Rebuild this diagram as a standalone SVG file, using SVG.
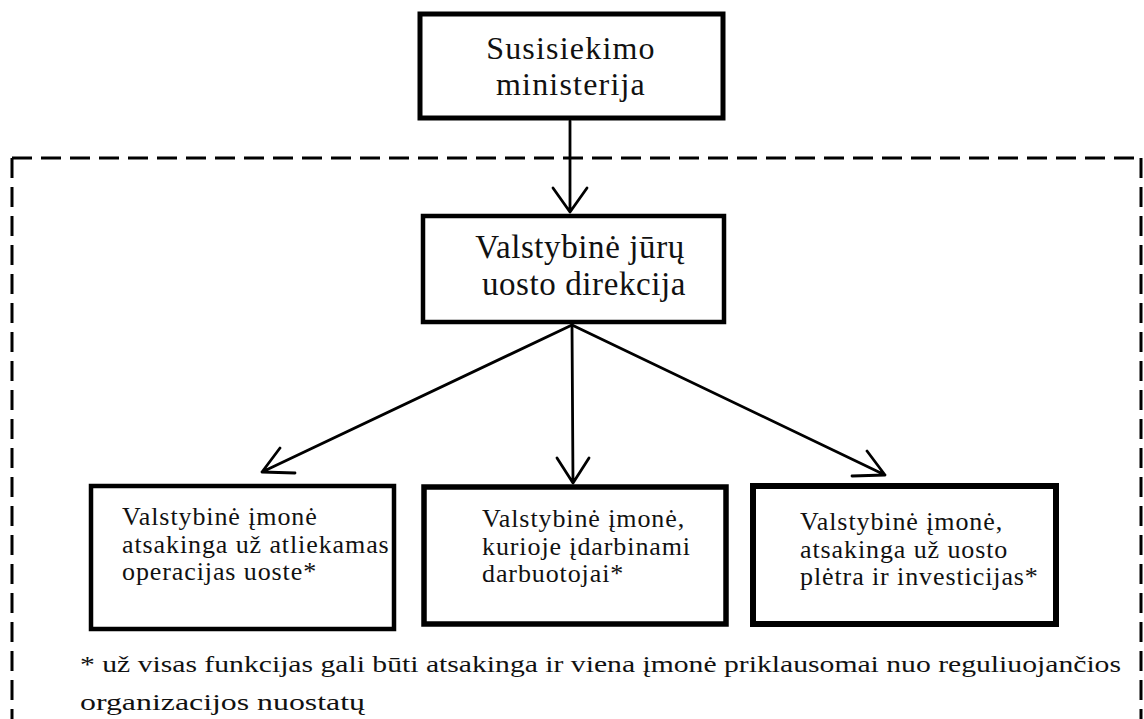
<svg xmlns="http://www.w3.org/2000/svg" width="1144" height="719" viewBox="0 0 1144 719">
<style>
.box{fill:#fff;stroke:#000;stroke-width:5}
.t{font-family:"Liberation Serif","Times New Roman",serif;fill:#111}
.big{font-size:32px;letter-spacing:1.2px}
.mid{font-size:33px;letter-spacing:0.6px}
.sm{font-size:26px;letter-spacing:0.9px}
.fn{font-size:24px}
.ln{stroke:#000;stroke-width:2.8;fill:none;stroke-linecap:round;stroke-linejoin:round}
</style>
<rect width="1144" height="719" fill="#fff"/>
<g id="frame">
<path d="M12 158 H1141 M12 158 V719 M1141 158 V719" fill="none" stroke="#000" stroke-width="3" stroke-dasharray="20 9"/>
</g>
<g id="connectors">
<path class="ln" d="M570 121 V212 M553 188 L570 212 L587 188"/>
<path class="ln" d="M572 325 L262 472 M280 448 L262 472 L295 473"/>
<path class="ln" d="M572 325 L573 483 M557 458 L573 483 L589 458"/>
<path class="ln" d="M572 325 L885 475 M867 451 L885 475 L852 476"/>
</g>
<g id="ministerija">
<rect class="box" x="420" y="14" width="303" height="104"/>
<text class="t big" x="571" y="59" text-anchor="middle">Susisiekimo</text>
<text class="t big" x="571" y="95" text-anchor="middle">ministerija</text>
</g>
<g id="direkcija">
<rect class="box" x="423" y="216" width="301" height="106" style="stroke-width:4.5"/>
<text class="t mid" x="580" y="258" text-anchor="middle">Valstybinė jūrų</text>
<text class="t mid" x="584" y="295" text-anchor="middle">uosto direkcija</text>
</g>
<g id="imone1">
<rect class="box" x="91" y="486" width="303" height="143" style="stroke-width:4.5"/>
<text class="t sm" x="122" y="525">Valstybinė įmonė</text>
<text class="t sm" x="122" y="553">atsakinga už atliekamas</text>
<text class="t sm" x="122" y="580">operacijas uoste*</text>
</g>
<g id="imone2">
<rect class="box" x="424" y="487" width="302" height="137" style="stroke-width:5.5"/>
<text class="t sm" x="482" y="527">Valstybinė įmonė,</text>
<text class="t sm" x="482" y="555">kurioje įdarbinami</text>
<text class="t sm" x="482" y="582">darbuotojai*</text>
</g>
<g id="imone3">
<rect class="box" x="753" y="486" width="303" height="138" style="stroke-width:6"/>
<text class="t sm" x="800" y="530">Valstybinė įmonė,</text>
<text class="t sm" x="800" y="558">atsakinga už uosto</text>
<text class="t sm" x="800" y="585">plėtra ir investicijas*</text>
</g>
<g id="footnote">
<text class="t fn" x="80" y="672" textLength="1041" lengthAdjust="spacingAndGlyphs">* už visas funkcijas gali būti atsakinga ir viena įmonė priklausomai nuo reguliuojančios</text>
<text class="t fn" x="80" y="710" textLength="285" lengthAdjust="spacingAndGlyphs">organizacijos nuostatų</text>
</g>
</svg>
